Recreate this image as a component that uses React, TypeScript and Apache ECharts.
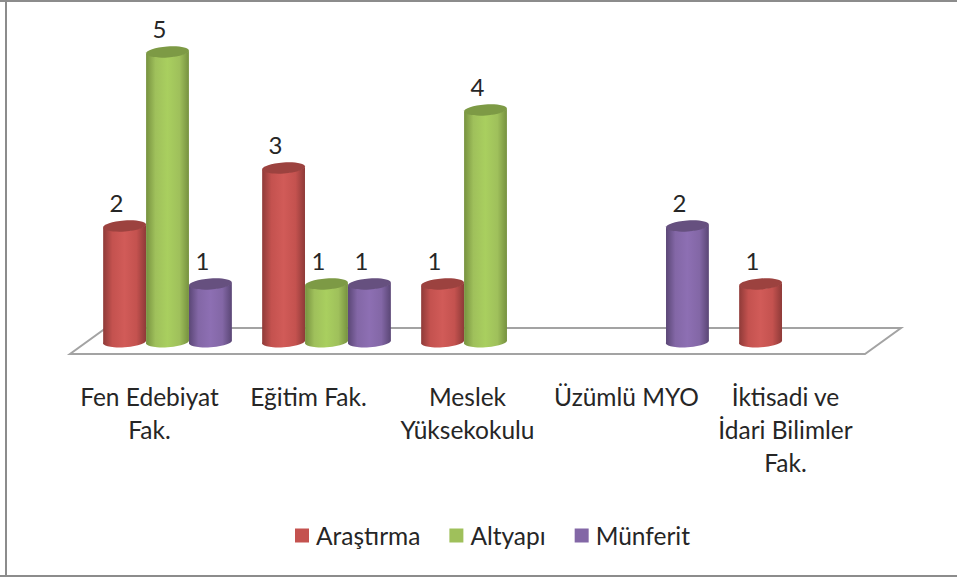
import React, { useEffect, useRef } from "react";
import * as echarts from "echarts";

const categories = [
  "Fen Edebiyat\nFak.",
  "Eğitim Fak.",
  "Meslek\nYüksekokulu",
  "Üzümlü MYO",
  "İktisadi ve\nİdari Bilimler\nFak.",
];
const arastirma = [2, 3, 1, 0, 1];
const altyapi = [5, 1, 4, 0, 0];
const munferit = [1, 1, 0, 2, 0];

const FONT = "Lato";
const TEXT = "#262626";
const FLOOR = "#a3a3a3";
const DEPTH_X = 18;
const DEPTH_Y = 13;
const SLOT = 0.27;
const TILT = -4;

const palette = [
  { base: "#c4524f", edge: "#8e3a38", mid: "#d15b58", top: "#9c423f" },
  { base: "#9fc05b", edge: "#76913f", mid: "#a9cf5f", top: "#7d9a45" },
  { base: "#8367a6", edge: "#5a4675", mid: "#8d6fb3", top: "#66507f" },
];

function cylinder(offsetSlots: number, colors: (typeof palette)[number]) {
  return (params: any, api: any) => {
    const value = api.value(1);
    if (!value) return null;
    const band = api.size([1, 0])[0];
    const w = band * SLOT;
    const [cx0, y0] = api.coord([api.value(0), 0]);
    const [, y1] = api.coord([api.value(0), value]);
    const cx = cx0 + DEPTH_X + offsetSlots * w;
    const base = y0 - DEPTH_Y;
    const topY = y1 - DEPTH_Y + 1;
    const rx = w / 2;
    const ry = 5.5;
    const rad = (TILT * Math.PI) / 180;
    const dx = rx * Math.cos(rad);
    const dy = rx * Math.sin(rad);
    const xl = cx - dx;
    const xr = cx + dx;
    const body =
      `M ${xl} ${topY - dy} L ${xl} ${base - dy} ` +
      `A ${rx} ${ry} ${TILT} 0 0 ${xr} ${base + dy} ` +
      `L ${xr} ${topY + dy} ` +
      `A ${rx} ${ry} ${TILT} 0 1 ${xl} ${topY - dy} Z`;
    return {
      type: "group",
      children: [
        {
          type: "path",
          shape: { pathData: body },
          style: {
            fill: new echarts.graphic.LinearGradient(0, 0, 1, 0, [
              { offset: 0, color: colors.edge },
              { offset: 0.22, color: colors.base },
              { offset: 0.5, color: colors.mid },
              { offset: 0.78, color: colors.base },
              { offset: 1, color: colors.edge },
            ]),
          },
        },
        {
          type: "ellipse",
          x: cx,
          y: topY,
          rotation: (-TILT * Math.PI) / 180,
          shape: { cx: 0, cy: 0, rx, ry },
          style: { fill: colors.top },
        },
        {
          type: "text",
          x: cx - 8,
          y: topY - 24,
          style: {
            text: String(value),
            fill: TEXT,
            font: `24px ${FONT}`,
            align: "center",
            verticalAlign: "middle",
          },
        },
      ],
    };
  };
}

function floor(params: any) {
  const r = params.coordSys;
  const left = r.x;
  const right = r.x + r.width;
  const front = r.y + r.height;
  const back = front - 2 * DEPTH_Y;
  const skew = 2 * DEPTH_X;
  return {
    type: "polygon",
    shape: {
      points: [
        [left, front],
        [right, front],
        [right + skew, back],
        [left + skew, back],
      ],
    },
    style: { fill: "#ffffff", stroke: FLOOR, lineWidth: 2 },
  };
}

function toData(values: number[]) {
  return values.map((v, i) => [i, v]);
}

export default function App() {
  const ref = useRef<HTMLDivElement>(null);
  useEffect(() => {
    document.body.style.margin = "0";
    const chart = echarts.init(ref.current!, null, { renderer: "svg" });
    const names = ["Araştırma", "Altyapı", "Münferit"];
    const values = [arastirma, altyapi, munferit];
    chart.setOption({
      animation: false,
      backgroundColor: "#ffffff",
      graphic: [
        {
          type: "line",
          shape: { x1: 0, y1: 1, x2: 957, y2: 1 },
          style: { stroke: "#8c8c8c", lineWidth: 2 },
        },
        {
          type: "line",
          shape: { x1: 6, y1: 0, x2: 6, y2: 577 },
          style: { stroke: "#8c8c8c", lineWidth: 2 },
        },
        {
          type: "line",
          shape: { x1: 0, y1: 576, x2: 957, y2: 576 },
          style: { stroke: "#8c8c8c", lineWidth: 2 },
        },
      ],
      grid: { left: 70, top: 6, width: 795, height: 348 },
      xAxis: {
        type: "category",
        data: categories,
        axisLine: { show: false },
        axisTick: { show: false },
        axisLabel: {
          interval: 0,
          margin: 26,
          color: TEXT,
          fontFamily: FONT,
          fontSize: 24.5,
          lineHeight: 33,
        },
      },
      yAxis: { type: "value", min: 0, max: 6, interval: 1, show: false },
      legend: {
        left: 295,
        top: 523,
        padding: 0,
        itemWidth: 14,
        itemHeight: 14,
        itemGap: 29,
        icon: "rect",
        textStyle: {
          color: TEXT,
          fontFamily: FONT,
          fontSize: 24.5,
          padding: [0, 0, 0, 2],
        },
        data: names,
      },
      series: [
        {
          type: "custom",
          name: "floor",
          silent: true,
          z: 1,
          renderItem: floor,
          data: [[0, 0]],
        },
        ...names.map((name, i) => ({
          type: "custom",
          name,
          z: 2 + (i === 1 ? 1 : 0),
          itemStyle: { color: palette[i].base },
          renderItem: cylinder(i - 1, palette[i]),
          encode: { x: 0, y: 1 },
          data: toData(values[i]),
        })),
      ],
    });
    return () => chart.dispose();
  }, []);
  return <div ref={ref} style={{ width: 957, height: 579 }} />;
}
